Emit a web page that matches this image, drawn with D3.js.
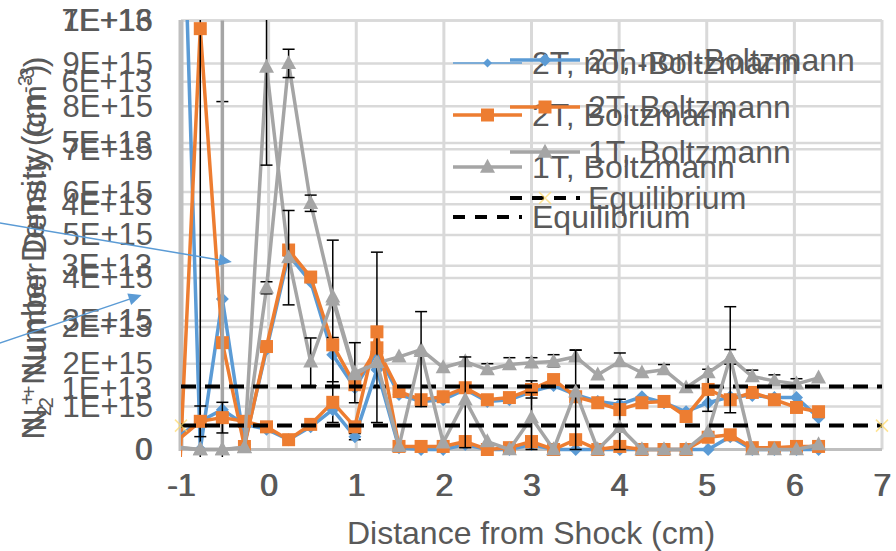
<!DOCTYPE html>
<html>
<head>
<meta charset="utf-8">
<script src="https://cdnjs.cloudflare.com/ajax/libs/d3/7.8.5/d3.min.js"></script>
<style>
  body { margin: 0; background: #fff; }
  svg text { font-family: "Liberation Sans", Arial, sans-serif; fill: #595959; }
</style>
</head>
<body>
<div class="areaGrafica"></div>
<script>
// distance from shock (cm)
const distancia = [-1.032, -0.78, -0.528, -0.276, -0.024, 0.228, 0.48, 0.732, 0.984, 1.236,
                   1.488, 1.74, 1.992, 2.244, 2.496, 2.748, 3.0, 3.252, 3.504, 3.756,
                   4.008, 4.26, 4.512, 4.764, 5.016, 5.268, 5.52, 5.772, 6.024, 6.276]

// chart A, values in 1E+15 cm^-3
const a_nonBoltz = [17, 0, 3.51, 0.12, 2.33, 4.53, 3.91, 2.21, 1.44, 2.28,
                    1.28, 1.12, 1.16, 1.40, 1.12, 1.16, 1.35, 1.49, 1.28, 1.12,
                    1.05, 1.23, 1.09, 0.88, 1.09, 1.23, 1.26, 1.21, 1.21, 0.74]
const a_boltz = [-1.2, 9.81, 2.49, 0.07, 2.40, 4.65, 4.02, 2.44, 1.51, 2.37,
                 1.35, 1.16, 1.23, 1.44, 1.16, 1.21, 1.40, 1.63, 1.23, 1.09,
                 0.93, 1.09, 1.12, 0.77, 1.40, 1.16, 1.33, 1.16, 0.98, 0.88]
const a_1T = [0.05, 0, 0, 0.05, 3.77, 9.0, 5.74, 3.56, 1.79, 2.02,
              2.16, 2.33, 1.91, 2.05, 1.86, 1.98, 2.02, 2.05, 2.16, 1.74,
              2.05, 1.79, 1.86, 1.44, 1.79, 2.14, 1.70, 1.60, 1.53, 1.67]
const a_equil = 1.47
const a_ticks = [0, 1, 2, 3, 4, 5, 6, 7, 8, 9, 10]

// chart B, values in 1E+13 cm^-3
const b_nonBoltz = [0.21, 0.46, 0.65, 0.41, 0.33, 0.16, 0.37, 0.65, 0.21, 1.30,
                    0.03, 0, 0, 0.08, 0, 0, 0.08, 0, 0, 0,
                    0, 0, 0, 0, 0, 0.21, 0, 0, 0, 0]
const b_boltz = [0.16, 0.46, 0.52, 0.46, 0.37, 0.16, 0.41, 0.77, 0.37, 1.92,
                 0.05, 0.05, 0.05, 0.13, 0, 0.03, 0.13, 0, 0.16, 0,
                 0.05, 0, 0, 0, 0.2, 0.24, 0.03, 0.03, 0.05, 0.05]
const b_1T = [0.03, 0, 0, 0.03, 6.24, 3.13, 1.43, 2.44, 1.22, 1.42,
              0.05, 1.60, 0.11, 0.81, 0.13, 0, 0.52, 0, 0.94, 0,
              0.36, 0, 0, 0, 0.29, 1.50, 0, 0, 0, 0.08]
const b_equil = 0.39
const b_ticks = [0, 1, 2, 3, 4, 5, 6, 7]

const x_ticks = [-1, 0, 1, 2, 3, 4, 5, 6, 7]
const nombres = ['2T, non-Boltzmann', '2T, Boltzmann', '1T, Boltzmann', 'Equilibrium']

// error bars: [point index, plus, minus]
const errA_nonBoltz = [[2, 4.6, 4.0], [7, 0.4, 0.63]]
const errA_boltz = [[1, 10, 10], [7, 2.44, 1.81], [16, 0.2, 0.2], [24, 0.47, 0.51]]
const errA_1T = [[4, 0.14, 0.14], [5, 0.33, 0.33], [6, 0.19, 0.19], [8, 0.7, 0.7],
                 [14, 0.14, 0.1], [15, 0.16, 0.1], [16, 0.12, 0.1], [17, 0.16, 0.12],
                 [18, 0.16, 0.1], [20, 0.2, 0.1], [22, 0.12, 0.1], [25, 0.19, 0.15],
                 [26, 0.15, 0.1], [27, 0.14, 0.1], [28, 0.12, 0.1]]
const errA_1Tgris = [[2, 10, 0]]
const errB_nonBoltz = [[8, 0.05, 0.05]]
const errB_boltz = [[1, 0.25, 0.25], [2, 0.25, 0.25], [9, 1.3, 1.48]]
const errB_1T = [[4, 1.6, 1.6], [5, 0.77, 0.77], [6, 0.39, 0.39], [11, 0.65, 0.9],
                 [13, 0.7, 0.78], [16, 0.41, 0.52], [18, 0.68, 0.94], [20, 0.46, 0.36],
                 [25, 0.83, 0.9]]

// annotation arrows [x0, y0, x1, y1] in chart A units
const flechas = [[-3.07, 5.28, -0.42, 4.37], [-3.07, 2.48, -1.45, 3.6]]

const azul = '#5b9bd5', naranja = '#ed7d31', gris = '#a5a5a5'

const formas = {
  cuadro: s => `M${-s},${-s}H${s}V${s}H${-s}Z`,
  rombo: s => `M0,${-s}L${s},0L0,${s}L${-s},0Z`,
  triangulo: s => `M0,${-s * 1.1}L${s},${s * 0.75}L${-s},${s * 0.75}Z`
}

function sci(v){
  if (v === 0) return '0'
  let e = Math.floor(Math.log10(v) + 1e-9)
  let m = Math.round(v / Math.pow(10, e))
  return m + 'E+' + e
}

function grafica(){
  const w = 896
  const h = 551

  let x = d3.scaleLinear().domain([-1, 7]).range([181, 882])
  let yA = d3.scaleLinear().domain([0, 10]).range([449.5, 20.5])
  let yB = d3.scaleLinear().domain([0, 7]).range([449.5, 20.5])

  let svg = d3.select('.areaGrafica').append('svg')
              .attr('width', w)
              .attr('height', h)

  svg.append('clipPath').attr('id', 'recorte')
     .append('rect').attr('x', 181).attr('y', 20).attr('width', 702).attr('height', 437)

  // gridlines
  let rejilla = svg.append('g').attr('stroke', '#d9d9d9')
  rejilla.selectAll('.ga').data(a_ticks).enter().append('line')
         .attr('x1', 181).attr('x2', 882)
         .attr('y1', d => yA(d)).attr('y2', d => yA(d)).attr('stroke-width', 2.5)
  rejilla.selectAll('.gb').data(b_ticks).enter().append('line')
         .attr('x1', 181).attr('x2', 882)
         .attr('y1', d => yB(d)).attr('y2', d => yB(d)).attr('stroke-width', 2.5)
  rejilla.selectAll('.gx').data(x_ticks.slice(1)).enter().append('line')
         .attr('x1', d => x(d)).attr('x2', d => x(d))
         .attr('y1', 20).attr('y2', 449.5).attr('stroke-width', 3)

  // axis lines
  svg.append('line').attr('x1', 181).attr('x2', 882).attr('y1', 449.5).attr('y2', 449.5)
     .attr('stroke', '#bfbfbf').attr('stroke-width', 3)
  svg.append('line').attr('x1', 181).attr('x2', 181).attr('y1', 20).attr('y2', 451)
     .attr('stroke', '#bfbfbf').attr('stroke-width', 5)

  // tick labels, two charts laid on top of each other
  let ejeA = d3.axisLeft(yA).tickValues(a_ticks).tickSize(0).tickPadding(28).tickFormat(d => sci(d * 1e15))
  let ejeB = d3.axisLeft(yB).tickValues(b_ticks).tickSize(0).tickPadding(29).tickFormat(d => sci(d * 1e13))
  let gA = svg.append('g').attr('transform', 'translate(181,0)').call(ejeA)
  let gB = svg.append('g').attr('transform', 'translate(181,0)').call(ejeB)
  ;[gA, gB].forEach(g => {
    g.select('.domain').remove()
    g.selectAll('text').attr('font-size', 31).attr('font-family', null).style('fill', '#595959')
  })

  ;[0, 1].forEach(dx => {
    let gx = svg.append('g').attr('transform', 'translate(' + dx + ',0)')
    gx.selectAll('text').data(x_ticks).enter().append('text')
      .attr('x', d => x(d)).attr('y', 496)
      .attr('text-anchor', 'middle').attr('font-size', 32)
      .text(d => d)
  })

  svg.append('text').attr('x', 531).attr('y', 544)
     .attr('text-anchor', 'middle').attr('font-size', 32)
     .text('Distance from Shock (cm)')

  // y title, doubled like the overlaid charts
  ;[[44, 252], [46, 244]].forEach(p => {
    let t = svg.append('text')
               .attr('transform', 'translate(' + p[0] + ',' + p[1] + ') rotate(-90)')
               .attr('text-anchor', 'middle').attr('font-size', 32)
    t.append('tspan').text('N')
    t.append('tspan').attr('font-size', 20).attr('dy', 7).text('2')
    t.append('tspan').attr('font-size', 20).attr('dy', -17).text('+')
    t.append('tspan').attr('dy', 10).text(' Number Density (cm')
    t.append('tspan').attr('font-size', 20).attr('dy', -12).text('-3')
    t.append('tspan').attr('dy', 12).text(')')
  })

  function linea(datos, y, color, ancho){
    svg.append('path').datum(datos)
       .attr('clip-path', 'url(#recorte)')
       .attr('d', d3.line().x((d, i) => x(distancia[i])).y(d => y(d)))
       .attr('fill', 'none').attr('stroke', color)
       .attr('stroke-width', ancho).attr('stroke-linejoin', 'round')
  }

  function errores(lista, datos, y, color, ancho){
    lista.forEach(e => {
      let cx = x(distancia[e[0]])
      let v = datos[e[0]]
      let y1 = y(v + e[1])
      let y2 = y(v - e[2])
      svg.append('line').attr('clip-path', 'url(#recorte)')
         .attr('x1', cx).attr('x2', cx).attr('y1', y1).attr('y2', y2)
         .attr('stroke', color).attr('stroke-width', ancho)
      ;[y1, y2].forEach(yy => {
        if (yy >= 20 && yy <= 451 && ancho < 2) {
          svg.append('line').attr('x1', cx - 6).attr('x2', cx + 6)
             .attr('y1', yy).attr('y2', yy)
             .attr('stroke', color).attr('stroke-width', 1.5)
        }
      })
    })
  }

  function puntos(datos, y, color, forma, s){
    datos.forEach((d, i) => {
      if (distancia[i] < -1 || d < 0 || d > y.domain()[1]) return
      svg.append('path').attr('d', formas[forma](s))
         .attr('transform', 'translate(' + x(distancia[i]) + ',' + y(d) + ')')
         .attr('fill', color)
    })
  }

  function equilibrio(v, y, marca){
    svg.append('line').attr('x1', x(-1)).attr('x2', x(7))
       .attr('y1', y(v)).attr('y2', y(v))
       .attr('stroke', '#000').attr('stroke-width', 4)
       .attr('stroke-dasharray', '15,9')
    if (marca) {
      ;[-1, 7].forEach(d => {
        svg.append('path').attr('d', 'M-6,-6L6,6M-6,6L6,-6')
           .attr('transform', 'translate(' + x(d) + ',' + y(v) + ')')
           .attr('stroke', '#ffd966').attr('stroke-width', 1.5).attr('opacity', 0.7)
      })
    }
  }

  // chart A
  linea(a_nonBoltz, yA, azul, 3.5)
  errores(errA_nonBoltz, a_nonBoltz, yA, '#000', 1.5)
  puntos(a_nonBoltz, yA, azul, 'rombo', 6.5)
  linea(a_boltz, yA, naranja, 3.5)
  errores(errA_boltz, a_boltz, yA, '#000', 1.5)
  puntos(a_boltz, yA, naranja, 'cuadro', 6.5)
  errores(errA_1Tgris, a_1T, yA, gris, 3.5)
  linea(a_1T, yA, gris, 3.5)
  errores(errA_1T, a_1T, yA, '#000', 1.5)
  puntos(a_1T, yA, gris, 'triangulo', 7.5)
  equilibrio(a_equil, yA, false)

  // chart B
  linea(b_nonBoltz, yB, azul, 3.5)
  errores(errB_nonBoltz, b_nonBoltz, yB, '#000', 1.5)
  puntos(b_nonBoltz, yB, azul, 'rombo', 6.5)
  linea(b_boltz, yB, naranja, 3.5)
  errores(errB_boltz, b_boltz, yB, '#000', 1.5)
  puntos(b_boltz, yB, naranja, 'cuadro', 6.5)
  linea(b_1T, yB, gris, 3.5)
  errores(errB_1T, b_1T, yB, '#000', 1.5)
  puntos(b_1T, yB, gris, 'triangulo', 7.5)
  equilibrio(b_equil, yB, true)

  // legends
  function leyenda(x0, x1, xt, filas, finoAzul, marcaEq){
    let estilos = [[azul, 'rombo'], [naranja, 'cuadro'], [gris, 'triangulo'], ['#000', null]]
    nombres.forEach((n, i) => {
      let yy = filas[i]
      let c = estilos[i][0]
      let ln = svg.append('line').attr('x1', x0).attr('x2', x1).attr('y1', yy).attr('y2', yy)
                  .attr('stroke', c)
                  .attr('stroke-width', (i === 0 && finoAzul) ? 1.5 : (i === 3 ? 4 : 3.5))
      if (i === 3) {
        ln.attr('stroke-dasharray', '12,10')
        if (marcaEq) {
          svg.append('path').attr('d', 'M-6,-6L6,6M-6,6L6,-6')
             .attr('transform', 'translate(' + (x0 + x1) / 2 + ',' + yy + ')')
             .attr('stroke', '#ffd966').attr('stroke-width', 1.5).attr('opacity', 0.7)
        }
      } else {
        let s = (i === 0 && finoAzul) ? 4.5 : (i === 2 ? 7.5 : 6.5)
        svg.append('path').attr('d', formas[estilos[i][1]](s))
           .attr('transform', 'translate(' + (x0 + x1) / 2 + ',' + yy + ')')
           .attr('fill', c)
      }
      svg.append('text').attr('x', xt).attr('y', yy).attr('dy', '0.35em')
         .attr('font-size', 32).text(n)
    })
  }
  leyenda(453, 522, 532, [63, 115, 167, 217], true, false)
  leyenda(510, 580, 588, [60, 107, 152, 198], false, true)

  // arrows
  flechas.forEach(f => {
    let x0 = x(f[0]), y0 = yA(f[1]), x1 = x(f[2]), y1 = yA(f[3])
    let ang = Math.atan2(y1 - y0, x1 - x0)
    svg.append('line').attr('x1', x0).attr('y1', y0)
       .attr('x2', x1 - 8 * Math.cos(ang)).attr('y2', y1 - 8 * Math.sin(ang))
       .attr('stroke', azul).attr('stroke-width', 1.5)
    svg.append('path').attr('d', 'M0,0L-13,-6L-13,6Z')
       .attr('transform', 'translate(' + x1 + ',' + y1 + ') rotate(' + (ang * 180 / Math.PI) + ')')
       .attr('fill', azul)
  })
}

grafica()
</script>
</body>
</html>
